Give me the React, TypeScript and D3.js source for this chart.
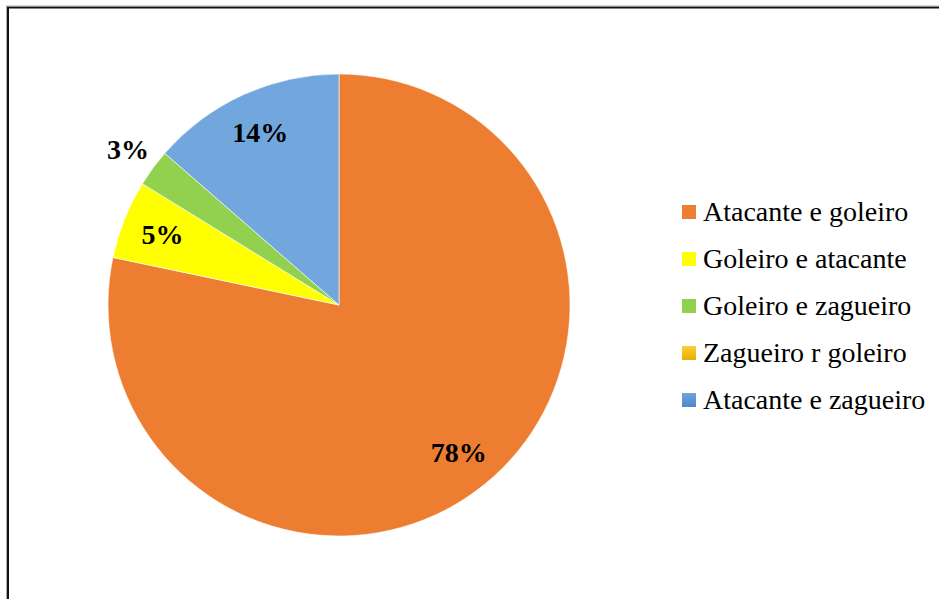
import React from "react";
import * as d3 from "d3";

const categories = [
  "Atacante e goleiro",
  "Goleiro e atacante",
  "Goleiro e zagueiro",
  "Zagueiro r goleiro",
  "Atacante e zagueiro",
];
const values = [78.3, 5.5, 2.6, 0, 13.6];
const labels = ["78%", "5%", "3%", "0%", "14%"];
const colors = ["#ED7D31", "#FFFF00", "#92D050", "#FFC000", "#5B9BD5"];

const W = 939;
const H = 599;
const cx = 339;
const cy = 305;
const R = 231;

export default function App() {
  const pie = d3.pie<number>().sort(null).value((d) => d)(values);
  const arc = d3.arc<d3.PieArcDatum<number>>().innerRadius(0).outerRadius(R);
  const labelArc = d3.arc<d3.PieArcDatum<number>>().innerRadius(190).outerRadius(190);
  const outerLabelArc = d3.arc<d3.PieArcDatum<number>>().innerRadius(262).outerRadius(262);
  const fills = [
    colors[0],
    colors[1],
    colors[2],
    "url(#gradOrangeYellow)",
    "url(#gradBlue)",
  ];
  const legendX = 682;
  const legendY0 = 212;
  const legendStep = 47;
  return (
    <div style={{ position: "absolute", left: 0, top: 0 }}>
      <svg width={W} height={H} style={{ display: "block" }}>
        <defs>
          <linearGradient id="gradBlue" gradientUnits="userSpaceOnUse" x1="0" y1={cy - R} x2="0" y2={cy}>
            <stop offset="0%" stopColor="#71A7DC" />
            <stop offset="100%" stopColor="#4788CA" />
          </linearGradient>
          <linearGradient id="gradBlueLegend" x1="0" y1="0" x2="0" y2="1">
            <stop offset="0%" stopColor="#6FA5DB" />
            <stop offset="100%" stopColor="#4A89CB" />
          </linearGradient>
          <linearGradient id="gradOrangeYellow" x1="0" y1="0" x2="0" y2="1">
            <stop offset="0%" stopColor="#FFCD3A" />
            <stop offset="100%" stopColor="#E8AE00" />
          </linearGradient>
        </defs>
        <rect x={0} y={0} width={W} height={H} fill="#fff" />
        <rect x={8} y={7.5} width={W + 20} height={H + 20} fill="none" stroke="#111" strokeWidth={2} />
        <rect x={6.5} y={6} width={W + 20} height={H + 20} fill="none" stroke="#999" strokeWidth={0.8} />
        <g transform={`translate(${cx},${cy})`}>
          {pie.map((p, i) =>
            p.value > 0 ? (
              <path key={i} d={arc(p) || ""} fill={fills[i]} stroke="#fff" strokeWidth={0.6} />
            ) : null
          )}
          {pie.map((p, i) => {
            if (p.value <= 0) return null;
            const pos = p.value < 4 ? outerLabelArc.centroid(p) : labelArc.centroid(p);
            return (
              <text
                key={"l" + i}
                x={pos[0]}
                y={pos[1]}
                dy="0.35em"
                textAnchor="middle"
                fontFamily="'Liberation Serif', 'Times New Roman', serif"
                fontWeight="bold"
                fontSize={28}
                fill="#000"
              >
                {labels[i]}
              </text>
            );
          })}
        </g>
        <g>
          {categories.map((c, i) => {
            const y = legendY0 + i * legendStep;
            const f = i === 4 ? "url(#gradBlueLegend)" : fills[i];
            return (
              <g key={c}>
                <rect x={legendX} y={y - 7} width={14} height={14} fill={f} />
                <text
                  x={legendX + 21}
                  y={y + 8.5}
                  fontFamily="'Liberation Serif', 'Times New Roman', serif"
                  fontSize={28}
                  fill="#000"
                >
                  {c}
                </text>
              </g>
            );
          })}
        </g>
      </svg>
    </div>
  );
}
